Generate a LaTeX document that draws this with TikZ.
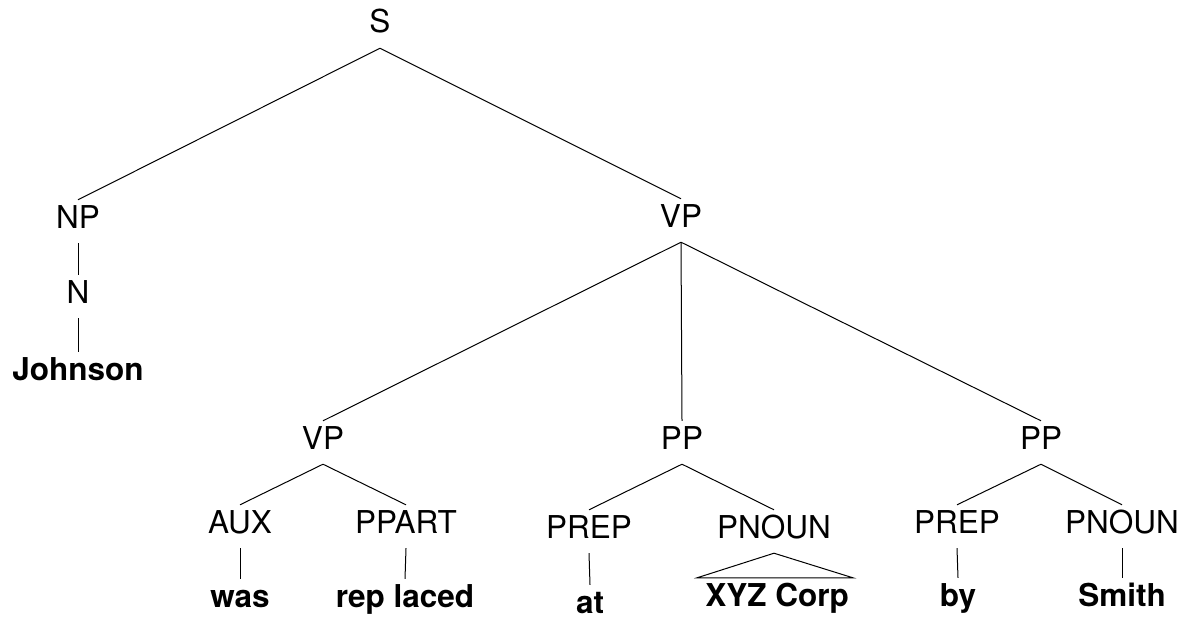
\documentclass[tikz,border=0pt]{standalone}
\usepackage{fontspec}
\setmainfont{TeX Gyre Heros}
\begin{document}
\begin{tikzpicture}[x=1pt,y=-1pt,
  lab/.style={anchor=base,inner sep=0pt,text height=28pt,text depth=15pt,font=\fontsize{31.5}{36}\selectfont},
  word/.style={lab,font=\fontsize{31.5}{36}\selectfont\bfseries},
  edge/.style={draw=black,line width=1pt}]
\useasboundingbox (0,0) rectangle (1183,618);
\node[lab] (S) at (380,33) {S};
\node[lab] (NP) at (78,228) {NP};
\node[lab] (N) at (78,303) {N};
\node[word] (Johnson) at (78,380) {Johnson};
\node[lab] (VPa) at (681,227) {VP};
\node[lab] (VPb) at (323,449) {VP};
\node[lab] (PPa) at (682,449) {PP};
\node[lab] (PPb) at (1041,449) {PP};
\node[lab] (AUX) at (240,533) {AUX};
\node[lab] (PPART) at (406,533) {PPART};
\node[word] (was) at (240,607) {was};
\node[word] (replaced) at (405,607) {rep laced};
\node[lab] (PREPa) at (589,538) {PREP};
\node[lab] (PNOUNa) at (774,538) {PNOUN};
\node[word] (at) at (590,613) {at};
\node[word] (XYZ) at (777,606) {XYZ Corp};
\node[lab] (PREPb) at (957,533) {PREP};
\node[lab] (PNOUNb) at (1122,533) {PNOUN};
\node[word] (by) at (958,606) {by};
\node[word] (Smith) at (1122,606) {Smith};
\path[edge] (S.south) -- (NP.north);
\path[edge] (S.south) -- (VPa.north);
\path[edge] (NP.south) -- (N.north);
\path[edge] (N.south) -- (Johnson.north);
\path[edge] (VPa.south) -- (VPb.north);
\path[edge] (VPa.south) -- (PPa.north);
\path[edge] (VPa.south) -- (PPb.north);
\path[edge] (VPb.south) -- (AUX.north);
\path[edge] (VPb.south) -- (PPART.north);
\path[edge] (AUX.south) -- (was.north);
\path[edge] (PPART.south) -- (replaced.north);
\path[edge] (PPa.south) -- (PREPa.north);
\path[edge] (PPa.south) -- (PNOUNa.north);
\path[edge] (PREPa.south) -- (at.north);
\path[edge] (PNOUNa.south) -- ([xshift=-8pt]XYZ.north west) -- ([xshift=4pt]XYZ.north east) -- cycle;
\path[edge] (PPb.south) -- (PREPb.north);
\path[edge] (PPb.south) -- (PNOUNb.north);
\path[edge] (PREPb.south) -- (by.north);
\path[edge] (PNOUNb.south) -- (Smith.north);
\end{tikzpicture}
\end{document}
